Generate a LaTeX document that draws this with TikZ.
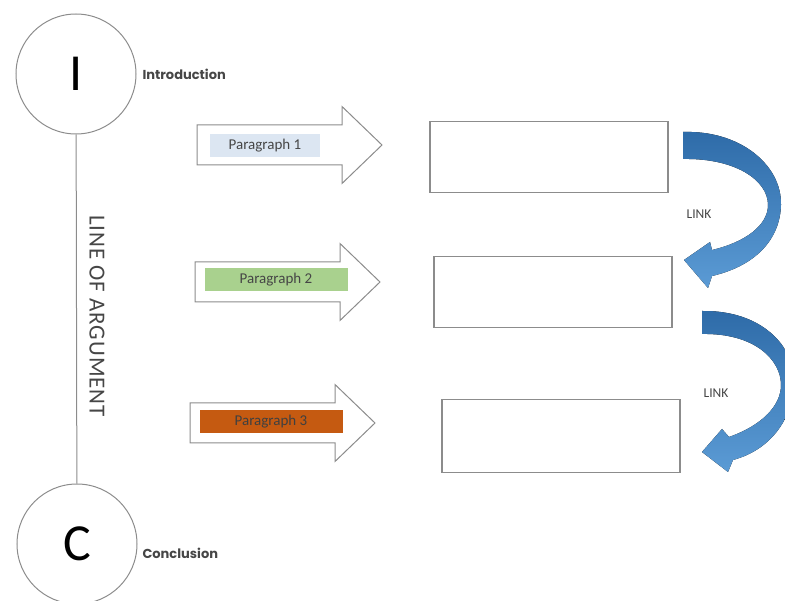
\documentclass[tikz,border=0pt]{standalone}
\usepackage{xcolor}
\usepackage{tikz}
\usepackage{fontspec}
\setmainfont{Carlito}
\newfontfamily\headfont{Poppins}
\newfontfamily\argfont[LetterSpace=4]{Carlito}
\definecolor{outlinegray}{RGB}{140, 140, 140}
\definecolor{textgray}{RGB}{70, 70, 70}
\definecolor{paleblue}{RGB}{220, 230, 242}
\definecolor{palegreen}{RGB}{169, 209, 142}
\definecolor{rustorange}{RGB}{197, 90, 17}
\definecolor{linkdark}{RGB}{46, 107, 168}
\definecolor{linklight}{RGB}{91, 155, 213}
\usetikzlibrary{positioning,calc}

\begin{document}
\begin{tikzpicture}[x=1pt,y=-1pt,
    stage/.style={
        circle,
        draw=outlinegray,
        line width=1pt,
        inner sep=0pt,
        minimum size=120pt,
        font=\fontsize{52}{52}\selectfont
    },
    caption/.style={
        anchor=west,
        font=\headfont\bfseries\fontsize{13}{13}\selectfont,
        text=textgray
    },
    paratag/.style={
        rectangle,
        minimum height=23pt,
        inner sep=0pt,
        font=\fontsize{15}{15}\selectfont
    },
    box/.style={
        rectangle,
        draw=outlinegray,
        line width=1.2pt,
        minimum width=238pt,
        minimum height=71pt
    },
    blockarrow/.style={draw=outlinegray, line width=1pt, fill=white},
    link/.style={top color=linkdark, bottom color=linklight, draw=none},
    linktext/.style={font=\fontsize{13.5}{13.5}\selectfont, text=textgray}
]
    \useasboundingbox (0,0) rectangle (785,601);
    \clip (0,0) rectangle (785,601);

    % Introduction and conclusion
    \node[stage] (intro) at (76,74) {I};
    \node[stage] (concl) at (77,544) {C};
    \node[caption] at (139,74) {Introduction};
    \node[caption] at (139,553) {Conclusion};

    % Line of argument
    \draw[outlinegray, line width=1pt] (intro) -- (concl);
    \node[rotate=-90, text=textgray, font=\argfont\fontsize{23}{23}\selectfont] (arg) at (97,316) {LINE OF ARGUMENT};

    % Block arrows
    \foreach \xl/\yc in {197/145, 195/282, 190/423}{
        \draw[blockarrow] (\xl,\yc-20) -- (\xl+145,\yc-20) -- (\xl+145,\yc-38.5)
            -- (\xl+185,\yc) -- (\xl+145,\yc+38.5) -- (\xl+145,\yc+20)
            -- (\xl,\yc+20) -- cycle;
    }
    \node[paratag, fill=paleblue, minimum width=110pt, text=textgray] (para1) at (265,146) {Paragraph 1};
    \node[paratag, fill=palegreen, minimum width=143pt, text=textgray] (para2) at (276,280) {Paragraph 2};
    \node[paratag, fill=rustorange, minimum width=143pt, text=black!75] (para3) at (271,422) {Paragraph 3};

    % Boxes
    \node[box] (box1) at (549,157) {};
    \node[box] (box2) at (553,292) {};
    \node[box, minimum height=73pt] (box3) at (561,436) {};

    % Links
    \fill[link] (683,132) .. controls (740,130) and (782,165) .. (781,205)
        .. controls (780,240) and (755,266) .. (712,276)
        -- (708,288) -- (684,260) -- (710,242) -- (712,250)
        .. controls (746,242) and (768,225) .. (768,205)
        .. controls (768,180) and (735,158) .. (683,159) -- cycle;
    \fill[link] (702,311) .. controls (760,310) and (796,345) .. (794,385)
        .. controls (792,420) and (770,450) .. (733,460)
        -- (728,472) -- (702,452) -- (722,429) -- (729,437)
        .. controls (763,425) and (781,405) .. (781,385)
        .. controls (781,360) and (755,333) .. (702,334) -- cycle;
    \node[linktext] (link1) at (699,214) {LINK};
    \node[linktext] (link2) at (716,393) {LINK};
\end{tikzpicture}
\end{document}
